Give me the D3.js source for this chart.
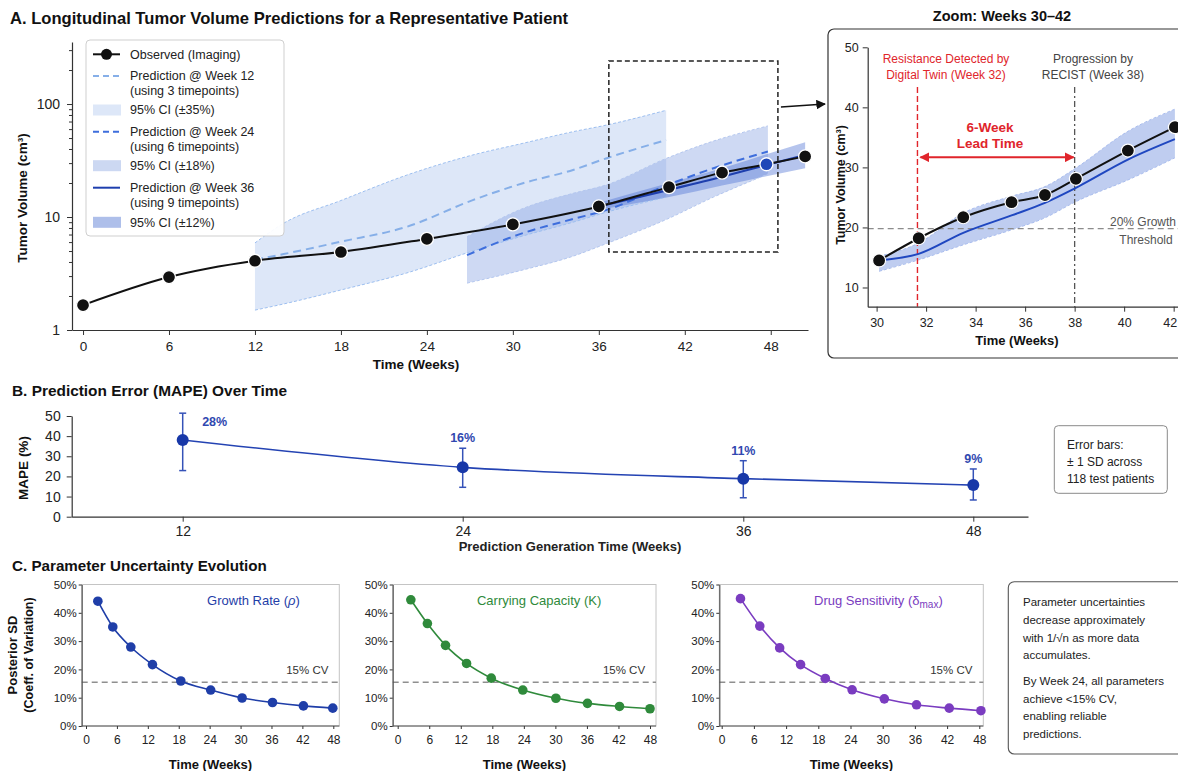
<!DOCTYPE html>
<html>
<head>
<meta charset="utf-8">
<script src="https://cdn.jsdelivr.net/npm/d3@7"></script>
<style>
  body { margin: 0; background: #ffffff; }
  svg text { font-family: "Liberation Sans", Arial, Helvetica, sans-serif; }
</style>
</head>
<body>
<svg id="chart" width="1178" height="771"></svg>
<script>
// ---------- Panel A: tumour volume for one patient (cm3) ----------
var obsWeeks = [0, 6, 12, 18, 24, 30, 36, 40.9, 44.6, 47.7, 50.4];
var obsVolume = [1.66, 2.94, 4.1, 4.9, 6.4, 8.6, 12.4, 18.4, 24.7, 29.3, 34.4];
var obsMarker = ["obs", "obs", "obs", "obs", "obs", "obs", "obs", "obs", "obs", "pred", "obs"];

var pred12Weeks = [12, 14, 18, 22.6, 27.2, 30.7, 34.2, 36.5, 40.7];
var pred12Mean = [4.2, 4.7, 6.05, 8.2, 14.1, 19.9, 26.1, 33, 48];
var pred12Lower = [1.5, 1.7, 2.26, 3.2, 5.0, 6.8, 9.0, 11, 15];
var pred12Upper = [5.9, 8.8, 14, 23.5, 35.4, 44.9, 56.9, 65, 88];

var pred24Weeks = [26.8, 30.7, 34.2, 36.5, 40.7, 44, 47.8];
var pred24Mean = [4.6, 7.2, 9.6, 11.5, 19, 27, 38];
var pred24Lower = [2.6, 3.4, 4.5, 5.8, 9.5, 15, 24];
var pred24Upper = [6.7, 11.9, 16.2, 19.2, 33, 47, 64];

var pred36Weeks = [36, 40.9, 44.6, 47.7, 50.4];
var pred36Mean = [12.4, 17.4, 22.7, 28.9, 35.4];
var pred36Lower = [11.6, 15, 19, 23, 27];
var pred36Upper = [13.4, 20, 27, 36, 46];

var mainWeekTicks = [0, 6, 12, 18, 24, 30, 36, 42, 48];
var mainVolumeTicks = [1, 10, 100];
var zoomBoxWeeks = [36.7, 48.5];
var zoomBoxVolume = [4.9, 240];

// ---------- Zoom inset: weeks 30-42 ----------
var zoomWeeks = [30.1, 31.7, 33.5, 35.45, 36.8, 38.05, 40.15, 42.05];
var zoomObserved = [14.5, 18.2, 21.7, 24.2, 25.4, 28.1, 32.8, 36.7];
var zoomPredMean = [14.5, 15.6, 19.1, 22.0, 24.1, 26.6, 31.3, 34.7];
var zoomPredLower = [12.7, 14.6, 17.1, 19.6, 21.6, 24.3, 27.9, 31.6];
var zoomPredUpper = [15.2, 17.4, 22.4, 25.2, 26.8, 29.9, 36, 39.7];
var zoomWeekTicks = [30, 32, 34, 36, 38, 40, 42];
var zoomVolumeTicks = [10, 20, 30, 40, 50];
var resistanceWeek = 31.65;
var progressionWeek = 38;
var growthThreshold = 19.8;

// ---------- Panel B: MAPE ----------
var mapeWeeks = [12, 24, 36, 48];
var mapeMean = [38.1, 24.5, 18.9, 15.7];
var mapeLow = [22.9, 14.6, 9.4, 8.3];
var mapeHigh = [51.4, 34, 27.8, 23.7];
var mapeLabels = ["28%", "16%", "11%", "9%"];
var mapeTicks = [0, 10, 20, 30, 40, 50];

// ---------- Panel C: posterior CV (%) ----------
var cvWeeksGrowth = [2.3, 5.2, 8.7, 12.9, 18.4, 24.2, 30.3, 36.2, 42.2, 47.9];
var cvGrowth = [44.1, 35.0, 27.9, 21.7, 15.9, 12.7, 9.9, 8.3, 7.1, 6.3];
var cvWeeksCapacity = [2.5, 5.65, 9.1, 13.1, 17.8, 23.8, 30.1, 36.1, 42.2, 48];
var cvCapacity = [44.6, 36.2, 28.5, 22.1, 16.9, 12.7, 9.8, 8.0, 6.9, 6.1];
var cvWeeksDrug = [3.5, 7.1, 10.8, 14.7, 19.3, 24.3, 30.3, 36.3, 42.4, 48.3];
var cvDrug = [45.0, 35.3, 27.6, 21.7, 16.8, 12.8, 9.6, 7.5, 6.3, 5.4];
var cvThreshold = 15.5;
var cvWeekTicks = [0, 6, 12, 18, 24, 30, 36, 42, 48];
var cvTicks = [0, 10, 20, 30, 40, 50];

var svg = d3.select("#chart");

var defs = svg.append("defs");
defs.append("marker")
    .attr("id", "arrow-red")
    .attr("viewBox", "0 -5 10 10")
    .attr("refX", 9)
    .attr("refY", 0)
    .attr("markerWidth", 5)
    .attr("markerHeight", 5)
    .attr("orient", "auto-start-reverse")
    .append("path")
    .attr("d", "M0,-5L10,0L0,5")
    .attr("fill", "#e0252b");
defs.append("marker")
    .attr("id", "arrow-black")
    .attr("viewBox", "0 -5 10 10")
    .attr("refX", 9)
    .attr("refY", 0)
    .attr("markerWidth", 6)
    .attr("markerHeight", 6)
    .attr("orient", "auto")
    .append("path")
    .attr("d", "M0,-5L10,0L0,5")
    .attr("fill", "#111111");

function label(g, x, y, txt, size, weight, color, anchor) {
    return g.append("text")
        .attr("x", x)
        .attr("y", y)
        .attr("font-size", size + "px")
        .attr("font-weight", weight || "normal")
        .attr("fill", color || "#222222")
        .attr("text-anchor", anchor || "start")
        .text(txt);
}

function styleAxis(g, size, domainColor) {
    g.select(".domain").attr("stroke", domainColor || "#333333").attr("stroke-width", 1.2);
    g.selectAll(".tick line").attr("stroke", "#333333");
    g.selectAll(".tick text")
        .attr("fill", "#222222")
        .style("font-size", size + "px")
        .style("font-family", "'Liberation Sans', Arial, sans-serif");
}

function rows(weeks, a, b, c) {
    return weeks.map(function(w, i) {
        return { w: w, a: a[i], b: b ? b[i] : null, c: c ? c[i] : null };
    });
}

// =====================================================================
// Panel A
// =====================================================================
var gA = svg.append("g");
label(gA, 10, 24, "A. Longitudinal Tumor Volume Predictions for a Representative Patient", 16.6, "bold", "#111111");

var ax = d3.scaleLinear().domain([-0.77, 50.6]).range([72, 808]);
var ay = d3.scaleLog().domain([1, 354]).range([330, 42]);

function bandPath(weeks, lo, hi) {
    return d3.area()
        .x(function(d) { return ax(d.w); })
        .y0(function(d) { return ay(d.a); })
        .y1(function(d) { return ay(d.b); })
        .curve(d3.curveMonotoneX)(rows(weeks, lo, hi));
}

function linePath(weeks, vals, xs, ys) {
    return d3.line()
        .x(function(d) { return xs(d.w); })
        .y(function(d) { return ys(d.a); })
        .curve(d3.curveMonotoneX)(rows(weeks, vals));
}

// confidence bands
gA.append("path").attr("d", bandPath(pred12Weeks, pred12Lower, pred12Upper))
    .attr("fill", "#dde7f8");
gA.append("path").attr("d", bandPath(pred24Weeks, pred24Lower, pred24Upper))
    .attr("fill", "#7d9be0").attr("fill-opacity", 0.38);
gA.append("path").attr("d", bandPath(pred36Weeks, pred36Lower, pred36Upper))
    .attr("fill", "#4f72d4").attr("fill-opacity", 0.42);

// thin dashed band edges
[[pred12Weeks, pred12Lower, "#9dbff0"], [pred12Weeks, pred12Upper, "#9dbff0"],
 [pred24Weeks, pred24Lower, "#b4c7ef"], [pred24Weeks, pred24Upper, "#b4c7ef"]].forEach(function(e) {
    gA.append("path").attr("d", linePath(e[0], e[1], ax, ay))
        .attr("fill", "none").attr("stroke", e[2]).attr("stroke-width", 1)
        .attr("stroke-dasharray", "3,2");
});

// prediction means
gA.append("path").attr("d", linePath(pred12Weeks, pred12Mean, ax, ay))
    .attr("fill", "none").attr("stroke", "#86afe8").attr("stroke-width", 2)
    .attr("stroke-dasharray", "8,5");
gA.append("path").attr("d", linePath(pred24Weeks, pred24Mean, ax, ay))
    .attr("fill", "none").attr("stroke", "#3e6edc").attr("stroke-width", 2)
    .attr("stroke-dasharray", "8,5");
gA.append("path").attr("d", linePath(pred36Weeks, pred36Mean, ax, ay))
    .attr("fill", "none").attr("stroke", "#1e3fae").attr("stroke-width", 2.2);

// observed
gA.append("path").attr("d", linePath(obsWeeks, obsVolume, ax, ay))
    .attr("fill", "none").attr("stroke", "#111111").attr("stroke-width", 2);
gA.selectAll(".obs")
    .data(rows(obsWeeks, obsVolume, obsMarker))
    .enter()
    .append("circle")
    .attr("cx", function(d) { return ax(d.w); })
    .attr("cy", function(d) { return ay(d.a); })
    .attr("r", 6.5)
    .attr("fill", function(d) { return d.b === "pred" ? "#1f47b8" : "#111111"; })
    .attr("stroke", "#ffffff")
    .attr("stroke-width", 1.3);

// axes
var axX = gA.append("g").attr("transform", "translate(0,330)")
    .call(d3.axisBottom(ax).tickValues(mainWeekTicks).tickSize(5).tickSizeOuter(0).tickPadding(6));
styleAxis(axX, 13.5);
var minorTicks = [];
[1, 10, 100].forEach(function(p) {
    for (var k = 2; k <= 9; k++) {
        if (p * k < 354) { minorTicks.push(p * k); }
    }
});
var axYm = gA.append("g").attr("transform", "translate(72,0)")
    .call(d3.axisLeft(ay).tickValues(minorTicks).tickSize(3).tickFormat(""));
axYm.select(".domain").remove();
axYm.selectAll(".tick line").attr("stroke", "#333333");
var axY = gA.append("g").attr("transform", "translate(72,0)")
    .call(d3.axisLeft(ay).tickValues(mainVolumeTicks).tickFormat(d3.format("d")).tickSize(5).tickSizeOuter(0).tickPadding(7));
styleAxis(axY, 14);
axY.selectAll(".tick text").attr("dy", "0.35em");

label(gA, 416, 369, "Time (Weeks)", 13.5, "bold", "#111111", "middle");
label(gA, 0, 0, "Tumor Volume (cm³)", 13.5, "bold", "#111111", "middle")
    .attr("transform", "translate(27,198) rotate(-90)");

// dashed zoom region box and arrow to inset
gA.append("rect")
    .attr("x", ax(zoomBoxWeeks[0]))
    .attr("y", ay(zoomBoxVolume[1]))
    .attr("width", ax(zoomBoxWeeks[1]) - ax(zoomBoxWeeks[0]))
    .attr("height", ay(zoomBoxVolume[0]) - ay(zoomBoxVolume[1]))
    .attr("fill", "none").attr("stroke", "#222222").attr("stroke-width", 1.5)
    .attr("stroke-dasharray", "5,3");
gA.append("line")
    .attr("x1", ax(zoomBoxWeeks[1]) + 3).attr("y1", ay(94))
    .attr("x2", 825).attr("y2", ay(100))
    .attr("stroke", "#111111").attr("stroke-width", 1.6)
    .attr("marker-end", "url(#arrow-black)");

// legend
var lg = gA.append("g");
lg.append("rect").attr("x", 86).attr("y", 40).attr("width", 198).attr("height", 196).attr("rx", 4)
    .attr("fill", "#ffffff").attr("fill-opacity", 0.93).attr("stroke", "#cfcfcf");
lg.append("line").attr("x1", 93).attr("x2", 120).attr("y1", 54.3).attr("y2", 54.3)
    .attr("stroke", "#111111").attr("stroke-width", 2);
lg.append("circle").attr("cx", 106.5).attr("cy", 54.3).attr("r", 5.5).attr("fill", "#111111");
var legendRows = [
    { y: 76, kind: "line", color: "#86afe8", dash: "6,4", text: ["Prediction @ Week 12", "(using 3 timepoints)"] },
    { y: 110, kind: "patch", color: "#dde7f8", text: ["95% CI (±35%)"] },
    { y: 131.7, kind: "line", color: "#3e6edc", dash: "6,4", text: ["Prediction @ Week 24", "(using 6 timepoints)"] },
    { y: 165.7, kind: "patch", color: "#ccd8f2", text: ["95% CI (±18%)"] },
    { y: 187.7, kind: "line", color: "#1e3fae", dash: null, text: ["Prediction @ Week 36", "(using 9 timepoints)"] },
    { y: 222.3, kind: "patch", color: "#aebfea", text: ["95% CI (±12%)"] }
];
label(lg, 130, 58.5, "Observed (Imaging)", 12.5, "normal", "#222222");
legendRows.forEach(function(r) {
    if (r.kind === "line") {
        lg.append("line").attr("x1", 93).attr("x2", 120).attr("y1", r.y).attr("y2", r.y)
            .attr("stroke", r.color).attr("stroke-width", 2)
            .attr("stroke-dasharray", r.dash);
    } else {
        lg.append("rect").attr("x", 93).attr("y", r.y - 5.5).attr("width", 28).attr("height", 11)
            .attr("fill", r.color);
    }
    r.text.forEach(function(t, i) {
        label(lg, 130, r.y + 4.3 + i * 15, t, 12.5, "normal", "#222222");
    });
});

// =====================================================================
// Zoom inset
// =====================================================================
var gZ = svg.append("g");
label(gZ, 1002, 21, "Zoom: Weeks 30\u201342", 14.5, "bold", "#111111", "middle");
gZ.append("rect").attr("x", 828).attr("y", 29).attr("width", 380).attr("height", 329).attr("rx", 6)
    .attr("fill", "#ffffff").attr("stroke", "#333333").attr("stroke-width", 1.2);

var zx = d3.scaleLinear().domain([29.64, 42.66]).range([867.7, 1190]);
var zy = d3.scaleLinear().domain([6.8, 50]).range([306.7, 47.3]);

gZ.append("path")
    .attr("d", d3.area()
        .x(function(d) { return zx(d.w); })
        .y0(function(d) { return zy(d.b); })
        .y1(function(d) { return zy(d.c); })
        .curve(d3.curveMonotoneX)(rows(zoomWeeks, zoomPredMean, zoomPredLower, zoomPredUpper)))
    .attr("fill", "#7f9ce2").attr("fill-opacity", 0.5);
[zoomPredLower, zoomPredUpper].forEach(function(v) {
    gZ.append("path").attr("d", linePath(zoomWeeks, v, zx, zy))
        .attr("fill", "none").attr("stroke", "#a9bdee").attr("stroke-width", 1)
        .attr("stroke-dasharray", "3,2");
});

// threshold
gZ.append("line")
    .attr("x1", zx(29.64)).attr("x2", 1178)
    .attr("y1", zy(growthThreshold)).attr("y2", zy(growthThreshold))
    .attr("stroke", "#8c8c8c").attr("stroke-width", 1.2).attr("stroke-dasharray", "6,4");
label(gZ, 1143, 226, "20% Growth", 12, "normal", "#555555", "middle");
label(gZ, 1146, 244, "Threshold", 12, "normal", "#555555", "middle");

// resistance / progression markers
gZ.append("line")
    .attr("x1", zx(resistanceWeek)).attr("x2", zx(resistanceWeek))
    .attr("y1", 87).attr("y2", zy(6.8))
    .attr("stroke", "#e0252b").attr("stroke-width", 1.4).attr("stroke-dasharray", "6,3");
gZ.append("line")
    .attr("x1", zx(progressionWeek)).attr("x2", zx(progressionWeek))
    .attr("y1", 87).attr("y2", zy(6.8))
    .attr("stroke", "#555555").attr("stroke-width", 1.3).attr("stroke-dasharray", "6,3,2,3");
label(gZ, 946, 63, "Resistance Detected by", 12, "normal", "#e0252b", "middle");
label(gZ, 946, 79, "Digital Twin (Week 32)", 12, "normal", "#e0252b", "middle");
label(gZ, 1093, 63, "Progression by", 12, "normal", "#444444", "middle");
label(gZ, 1093, 79, "RECIST (Week 38)", 12, "normal", "#444444", "middle");
label(gZ, 990, 132, "6-Week", 13.5, "bold", "#e0252b", "middle");
label(gZ, 990, 148, "Lead Time", 13.5, "bold", "#e0252b", "middle");
gZ.append("line")
    .attr("x1", zx(resistanceWeek) + 3).attr("x2", zx(progressionWeek) - 1)
    .attr("y1", 157.3).attr("y2", 157.3)
    .attr("stroke", "#e0252b").attr("stroke-width", 2)
    .attr("marker-start", "url(#arrow-red)")
    .attr("marker-end", "url(#arrow-red)");

gZ.append("path").attr("d", linePath(zoomWeeks, zoomPredMean, zx, zy))
    .attr("fill", "none").attr("stroke", "#1f47c0").attr("stroke-width", 2);
gZ.append("path").attr("d", linePath(zoomWeeks, zoomObserved, zx, zy))
    .attr("fill", "none").attr("stroke", "#111111").attr("stroke-width", 2);
gZ.selectAll(".zobs")
    .data(rows(zoomWeeks, zoomObserved))
    .enter()
    .append("circle")
    .attr("cx", function(d) { return zx(d.w); })
    .attr("cy", function(d) { return zy(d.a); })
    .attr("r", 6.5)
    .attr("fill", "#111111")
    .attr("stroke", "#ffffff")
    .attr("stroke-width", 1.2);

var zAxX = gZ.append("g").attr("transform", "translate(0,306.7)")
    .call(d3.axisBottom(zx).tickValues(zoomWeekTicks).tickSize(5).tickSizeOuter(0).tickPadding(6));
styleAxis(zAxX, 12.5);
// last tick label sits at the page edge: right-align it so it stays whole
zAxX.selectAll(".tick text")
    .filter(function(d) { return d === 42; })
    .attr("text-anchor", "end")
    .attr("x", 3);
var zAxY = gZ.append("g").attr("transform", "translate(867.7,0)")
    .call(d3.axisLeft(zy).tickValues(zoomVolumeTicks).tickSize(5).tickSizeOuter(0).tickPadding(4));
styleAxis(zAxY, 12.5);
label(gZ, 1017, 345, "Time (Weeks)", 13, "bold", "#111111", "middle");
label(gZ, 0, 0, "Tumor Volume (cm³)", 12.5, "bold", "#111111", "middle")
    .attr("transform", "translate(845,185) rotate(-90)");

// =====================================================================
// Panel B
// =====================================================================
var gB = svg.append("g");
label(gB, 12, 396, "B. Prediction Error (MAPE) Over Time", 15.4, "bold", "#111111");

var bx = d3.scaleLinear()
    .domain([7.24, 12, 24, 36, 48, 50.85])
    .range([71.7, 182.7, 462.7, 743.3, 973.3, 1028]);
var by = d3.scaleLinear().domain([0, 50]).range([516.7, 416]);

var bAxX = gB.append("g").attr("transform", "translate(0,516.7)")
    .call(d3.axisBottom(bx).tickValues(mapeWeeks).tickSize(5).tickSizeOuter(0).tickPadding(4));
styleAxis(bAxX, 14);
var bAxY = gB.append("g").attr("transform", "translate(71.7,0)")
    .call(d3.axisLeft(by).tickValues(mapeTicks).tickSize(5).tickSizeOuter(0).tickPadding(6));
styleAxis(bAxY, 14);

var mapeRows = mapeWeeks.map(function(w, i) {
    return { w: w, m: mapeMean[i], lo: mapeLow[i], hi: mapeHigh[i], t: mapeLabels[i], i: i };
});

gB.append("path")
    .attr("d", d3.line()
        .x(function(d) { return bx(d.w); })
        .y(function(d) { return by(d.m); })
        .curve(d3.curveMonotoneX)(mapeRows))
    .attr("fill", "none").attr("stroke", "#2443b3").attr("stroke-width", 1.6);

var eb = gB.selectAll(".eb").data(mapeRows).enter().append("g");
eb.append("line")
    .attr("x1", function(d) { return bx(d.w); })
    .attr("x2", function(d) { return bx(d.w); })
    .attr("y1", function(d) { return by(d.lo); })
    .attr("y2", function(d) { return by(d.hi); })
    .attr("stroke", "#3552b8").attr("stroke-width", 1.5);
[["lo"], ["hi"]].forEach(function(k) {
    eb.append("line")
        .attr("x1", function(d) { return bx(d.w) - 3.5; })
        .attr("x2", function(d) { return bx(d.w) + 3.5; })
        .attr("y1", function(d) { return by(d[k[0]]); })
        .attr("y2", function(d) { return by(d[k[0]]); })
        .attr("stroke", "#3552b8").attr("stroke-width", 1.5);
});
eb.append("circle")
    .attr("cx", function(d) { return bx(d.w); })
    .attr("cy", function(d) { return by(d.m); })
    .attr("r", 6)
    .attr("fill", "#1838a8");
eb.append("text")
    .attr("x", function(d) { return d.i === 0 ? bx(d.w) + 32 : bx(d.w); })
    .attr("y", function(d) { return d.i === 0 ? by(d.hi) + 13 : by(d.hi) - 6; })
    .attr("text-anchor", "middle")
    .attr("font-size", "12.5px")
    .attr("font-weight", "bold")
    .attr("fill", "#3048b0")
    .text(function(d) { return d.t; });

label(gB, 570, 551, "Prediction Generation Time (Weeks)", 13, "bold", "#222222", "middle");
label(gB, 0, 0, "MAPE (%)", 13.5, "bold", "#111111", "middle")
    .attr("transform", "translate(28,468) rotate(-90)");

gB.append("rect").attr("x", 1054.3).attr("y", 425.7).attr("width", 113).attr("height", 67.6).attr("rx", 4)
    .attr("fill", "#ffffff").attr("stroke", "#8a8a8a");
label(gB, 1067, 449, "Error bars:", 12, "normal", "#222222");
label(gB, 1067, 466, "\u00b1 1 SD across", 12, "normal", "#222222");
label(gB, 1067, 482.5, "118 test patients", 12, "normal", "#222222");

// =====================================================================
// Panel C
// =====================================================================
var gC = svg.append("g");
label(gC, 12, 571, "C. Parameter Uncertainty Evolution", 15.2, "bold", "#111111");

var cy = d3.scaleLinear().domain([0, 50]).range([726, 584.5]);

var cvPanels = [
    { weeks: cvWeeksGrowth, values: cvGrowth, color: "#1f3ea8", left: 81.7, right: 339.3, x0: 86, x48: 333.3, labelWeek: 32.5, name: "growth" },
    { weeks: cvWeeksCapacity, values: cvCapacity, color: "#2f8a3b", left: 392.7, right: 656, x0: 397.7, x48: 650, labelWeek: 26.9, name: "capacity" },
    { weeks: cvWeeksDrug, values: cvDrug, color: "#7a3cc0", left: 719.3, right: 983.3, x0: 721.7, x48: 979.3, labelWeek: 29.2, name: "drug" }
];

cvPanels.forEach(function(p) {
    var cx = d3.scaleLinear().domain([0, 48]).range([p.x0, p.x48]);
    var g = gC.append("g");

    g.append("rect")
        .attr("x", p.left).attr("y", cy(50))
        .attr("width", p.right - p.left).attr("height", cy(0) - cy(50))
        .attr("fill", "none").attr("stroke", "#c4c4c4").attr("stroke-width", 1);

    g.append("line")
        .attr("x1", p.left).attr("x2", p.right)
        .attr("y1", cy(cvThreshold)).attr("y2", cy(cvThreshold))
        .attr("stroke", "#8f8f8f").attr("stroke-width", 1.5).attr("stroke-dasharray", "6,4");
    label(g, p.right - 32, 674, "15% CV", 11.5, "normal", "#333333", "middle");

    var pts = rows(p.weeks, p.values);
    g.append("path")
        .attr("d", d3.line()
            .x(function(d) { return cx(d.w); })
            .y(function(d) { return cy(d.a); })
            .curve(d3.curveMonotoneX)(pts))
        .attr("fill", "none").attr("stroke", p.color).attr("stroke-width", 1.6);
    g.selectAll(".pt").data(pts).enter().append("circle")
        .attr("cx", function(d) { return cx(d.w); })
        .attr("cy", function(d) { return cy(d.a); })
        .attr("r", 4.8)
        .attr("fill", p.color);

    var gx = g.append("g").attr("transform", "translate(0," + cy(0) + ")")
        .call(d3.axisBottom(cx).tickValues(cvWeekTicks).tickSize(3).tickSizeOuter(0).tickPadding(6));
    styleAxis(gx, 12, "#555555");
    gx.select(".domain").attr("d", "M" + p.left + ",0H" + p.right);
    var gy = g.append("g").attr("transform", "translate(" + p.left + ",0)")
        .call(d3.axisLeft(cy).tickValues(cvTicks).tickFormat(function(d) { return d + "%"; })
            .tickSize(3).tickSizeOuter(0).tickPadding(2));
    styleAxis(gy, 11.5, "#555555");

    label(g, (p.left + p.right) / 2, 769, "Time (Weeks)", 13, "bold", "#111111", "middle");

    var t = g.append("text")
        .attr("x", cx(p.labelWeek)).attr("y", 604.5)
        .attr("text-anchor", "middle")
        .attr("font-size", "13px")
        .attr("fill", p.color);
    if (p.name === "growth") {
        t.append("tspan").text("Growth Rate (");
        t.append("tspan").attr("font-style", "italic").text("\u03c1");
        t.append("tspan").text(")");
    } else if (p.name === "capacity") {
        t.text("Carrying Capacity (K)");
    } else {
        t.append("tspan").text("Drug Sensitivity (\u03b4");
        t.append("tspan").attr("font-size", "10px").attr("dy", 3).text("max");
        t.append("tspan").attr("dy", -3).text(")");
    }
});

label(gC, 0, 0, "Posterior SD", 13, "bold", "#111111", "middle")
    .attr("transform", "translate(17,655) rotate(-90)");
label(gC, 0, 0, "(Coeff. of Variation)", 12.5, "bold", "#111111", "middle")
    .attr("transform", "translate(33,655) rotate(-90)");

gC.append("rect").attr("x", 1008.3).attr("y", 581.7).attr("width", 190).attr("height", 172.3).attr("rx", 6)
    .attr("fill", "#ffffff").attr("stroke", "#555555").attr("stroke-width", 1.1);
var noteLines = [
    ["Parameter uncertainties", 606],
    ["decrease approximately", 623.5],
    ["with 1/\u221an as more data", 641.5],
    ["accumulates.", 659],
    ["By Week 24, all parameters", 685],
    ["achieve <15% CV,", 702.5],
    ["enabling reliable", 720],
    ["predictions.", 737.5]
];
noteLines.forEach(function(n) {
    label(gC, 1023, n[1], n[0], 11.5, "normal", "#222222");
});
</script>
</body>
</html>
